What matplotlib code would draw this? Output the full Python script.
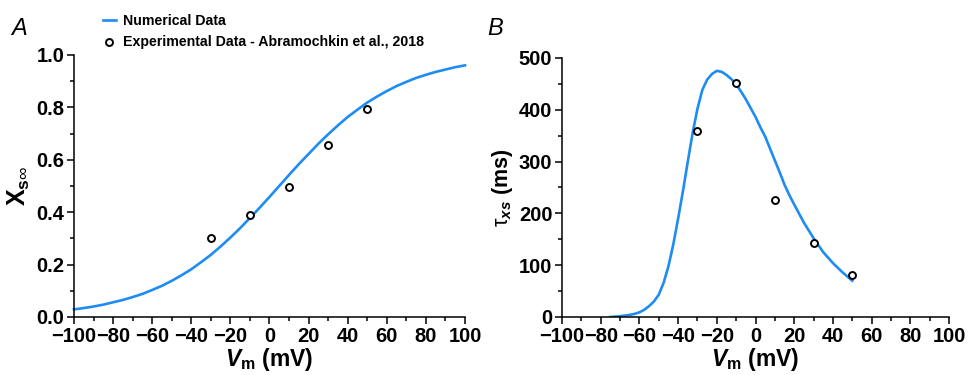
import numpy as np
import matplotlib.pyplot as plt
from matplotlib.ticker import MultipleLocator, FormatStrFormatter

plt.rcParams['font.family'] = ['Liberation Sans', 'DejaVu Sans']
plt.rcParams['mathtext.fontset'] = 'custom'
plt.rcParams['mathtext.rm'] = 'Liberation Sans'
plt.rcParams['mathtext.it'] = 'Liberation Sans:italic'
plt.rcParams['mathtext.bf'] = 'Liberation Sans:bold'
plt.rcParams['mathtext.bfit'] = 'Liberation Sans:italic:bold'

blue = '#1e8cf2'

# steady-state activation, model curve (mV, fraction)
v_inf = [-100, -95, -90, -85, -80, -75, -70, -65, -60, -55, -50, -45, -40, -35, -30,
         -25, -20, -15, -10, -5, 0, 5, 10, 15, 20, 25, 30, 35, 40, 45, 50,
         55, 60, 65, 70, 75, 80, 85, 90, 95, 100]
xs_inf = [0.029, 0.034, 0.040, 0.047, 0.056, 0.065, 0.076, 0.088, 0.103, 0.119, 0.138,
          0.159, 0.182, 0.209, 0.237, 0.269, 0.303, 0.339, 0.378, 0.417, 0.458, 0.500,
          0.542, 0.583, 0.622, 0.661, 0.697, 0.731, 0.763, 0.791, 0.818, 0.841, 0.862,
          0.881, 0.897, 0.912, 0.924, 0.935, 0.944, 0.953, 0.960]

# time constant, model curve (mV, ms)
v_tau = [-75, -70, -65, -62.5, -60, -57.5, -55, -52.5, -50, -47.5, -45, -42.5, -40,
         -37.5, -35, -32.5, -30, -27.5, -25, -22.5, -20, -17.5, -15, -12.5, -10, -7.5,
         -5, -2.5, 0, 2.5, 5, 7.5, 10, 12.5, 15, 17.5, 20, 25, 30, 35, 40, 45, 50]
tau_xs = [0, 1.5, 4, 6, 9, 14, 21, 30, 43, 66, 98, 140, 190,
          243, 300, 355, 402, 438, 458, 469, 475, 473, 467, 459, 449, 435,
          420, 403, 386, 366, 348, 325, 302, 279, 255, 235, 217, 182, 152, 125, 104, 86, 70]

# Abramochkin et al., 2018
v_exp = [-30, -10, 10, 30, 50]
xs_exp = [0.303, 0.389, 0.495, 0.655, 0.793]
tau_exp = [359, 451, 225, 142, 81]

fig = plt.figure(figsize=(9.68, 3.75), dpi=100)
ax_a = fig.add_axes([0.0764, 0.1547, 0.404, 0.699])
ax_b = fig.add_axes([0.5806, 0.1547, 0.3998, 0.691])

ax_a.plot(v_inf, xs_inf, color=blue, lw=1.9, label='Numerical Data', clip_on=False)
ax_a.plot(v_exp, xs_exp, 'o', ms=5, mfc='white', mec='black', mew=1.4,
          label='Experimental Data - Abramochkin et al., 2018')
ax_b.plot(v_tau, tau_xs, color=blue, lw=1.9)
ax_b.plot(v_exp, tau_exp, 'o', ms=5, mfc='white', mec='black', mew=1.4)

for ax in (ax_a, ax_b):
    for s in ('top', 'right'):
        ax.spines[s].set_visible(False)
    for s in ('left', 'bottom'):
        ax.spines[s].set_linewidth(1.1)
    ax.set_xlim(-100, 100)
    ax.xaxis.set_major_locator(MultipleLocator(20))
    ax.xaxis.set_minor_locator(MultipleLocator(10))
    ax.tick_params(which='major', length=5, width=1.1, labelsize=14.5, pad=2)
    ax.tick_params(which='minor', length=3, width=1.1)
    ax.set_xlabel(r'$\mathbfit{V}_{\mathbf{m}}$ (mV)', fontsize=16.5, fontweight='bold', labelpad=0)

ax_a.set_ylim(0, 1.0)
ax_a.yaxis.set_major_locator(MultipleLocator(0.2))
ax_a.yaxis.set_minor_locator(MultipleLocator(0.1))
ax_a.yaxis.set_major_formatter(FormatStrFormatter('%.1f'))
ax_a.set_ylabel(r'$\mathbf{X}_{\mathbf{s}\infty}$', fontsize=18, labelpad=3)

ax_b.set_ylim(0, 500)
ax_b.yaxis.set_major_locator(MultipleLocator(100))
ax_b.yaxis.set_minor_locator(MultipleLocator(50))
ax_b.set_ylabel(r'$\mathrm{\tau}_{\mathbfit{xs}}$ (ms)', fontsize=15.5, fontweight='bold', labelpad=3)

for ax in (ax_a, ax_b):
    for lab in ax.get_xticklabels() + ax.get_yticklabels():
        lab.set_fontweight('bold')

ax_a.legend(loc='upper left', bbox_to_anchor=(0.096, 0.99), bbox_transform=fig.transFigure,
            frameon=False, handlelength=0.9, handletextpad=0.5, labelspacing=0.55,
            borderaxespad=0.3, prop={'weight': 'bold', 'size': 10.2})

fig.text(0.012, 0.907, 'A', fontsize=17, style='italic')
fig.text(0.503, 0.907, 'B', fontsize=17, style='italic')

fig.savefig('out.png', dpi=100)
